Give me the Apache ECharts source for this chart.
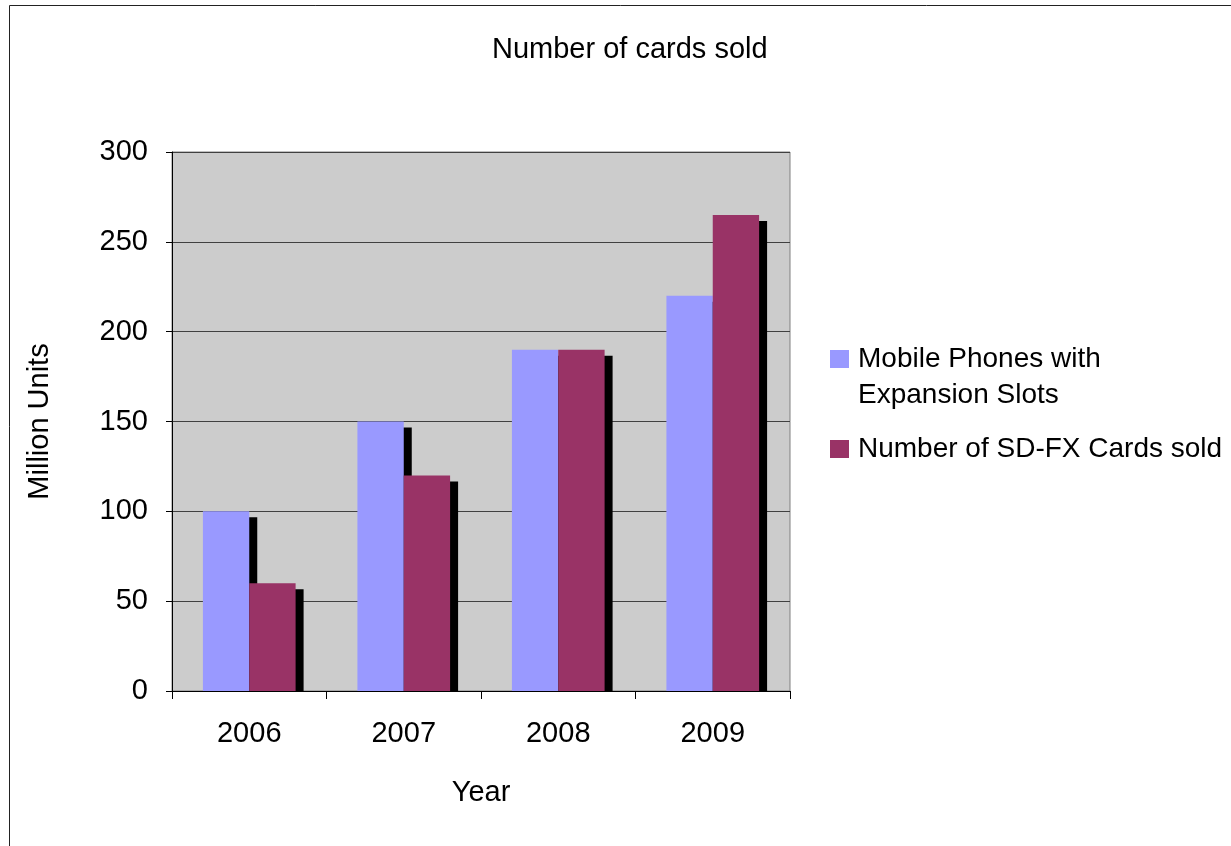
<!DOCTYPE html>
<html>
<head>
<meta charset="utf-8">
<script src="https://cdn.jsdelivr.net/npm/echarts@6/dist/echarts.min.js"></script>
<style>
  html, body { margin: 0; padding: 0; background: #fff; }
  #chart { width: 1231px; height: 846px; }
</style>
</head>
<body>
<div id="chart"></div>
<script>
// Sales figures, million units per year
const years = ['2006', '2007', '2008', '2009'];
const phonesWithSlots = [100, 150, 190, 220];
const sdfxCardsSold = [60, 120, 190, 265];
const seriesNames = ['Mobile Phones with\nExpansion Slots', 'Number of SD-FX Cards sold'];
const yTicks = { min: 0, max: 300, step: 50 };

const FONT = '"Liberation Sans", Arial, sans-serif';
const TXT = 29;
const LEG = 28;

const chart = echarts.init(document.getElementById('chart'), null, { renderer: 'canvas' });

const barShadow = {
  shadowColor: '#000000',
  shadowBlur: 0,
  shadowOffsetX: 8,
  shadowOffsetY: 6
};

const frame = {
  type: 'rect',
  id: 'frame',
  silent: true,
  z: -10,
  shape: { x: 9.5, y: 5.5, width: 1400, height: 1000 },
  style: { fill: 'none', stroke: '#222', lineWidth: 1 }
};

chart.setOption({
  animation: false,
  backgroundColor: '#ffffff',
  textStyle: { fontFamily: FONT, color: '#000' },
  graphic: [frame],
  title: {
    text: 'Number of cards sold',
    left: 487,
    top: 30,
    textStyle: { fontFamily: FONT, fontSize: TXT, fontWeight: 'normal', color: '#000' }
  },
  legend: {
    orient: 'vertical',
    left: 830,
    top: 305,
    padding: 0,
    itemWidth: 19,
    itemHeight: 18,
    itemGap: 18,
    icon: 'rect',
    // leading blank line keeps the first text line level with the swatch
    formatter: name => (name.indexOf('\n') >= 0 ? ' \n' + name : name),
    textStyle: { fontFamily: FONT, fontSize: LEG, color: '#000', lineHeight: 36, padding: [0, 0, 0, 4] },
    data: seriesNames
  },
  grid: {
    left: 172,
    right: 441,
    top: 152,
    bottom: 155,
    show: true,
    backgroundColor: '#cccccc',
    borderColor: '#808080',
    borderWidth: 1
  },
  xAxis: {
    type: 'category',
    data: years,
    boundaryGap: true,
    z: 5,
    name: 'Year',
    nameLocation: 'middle',
    nameGap: 87,
    nameTextStyle: { fontFamily: FONT, fontSize: TXT, color: '#000' },
    axisLine: { lineStyle: { color: '#000', width: 1 } },
    axisTick: { show: true, length: 8, lineStyle: { color: '#000' } },
    axisLabel: { fontFamily: FONT, fontSize: TXT, color: '#000', margin: 28 }
  },
  yAxis: {
    type: 'value',
    min: yTicks.min,
    max: yTicks.max,
    interval: yTicks.step,
    name: 'Million Units',
    nameLocation: 'middle',
    nameGap: 118,
    nameTextStyle: { fontFamily: FONT, fontSize: TXT, color: '#000' },
    axisLine: { show: true, lineStyle: { color: '#000', width: 1 } },
    axisTick: { show: true, length: 6, lineStyle: { color: '#000' } },
    axisLabel: { fontFamily: FONT, fontSize: TXT, color: '#000', margin: 24 },
    splitLine: { show: true, lineStyle: { color: '#404040', width: 1 } }
  },
  series: [
    {
      name: seriesNames[0],
      type: 'bar',
      data: phonesWithSlots,
      barWidth: '30%',
      barGap: '0%',
      itemStyle: Object.assign({ color: '#9999ff' }, barShadow)
    },
    {
      name: seriesNames[1],
      type: 'bar',
      data: sdfxCardsSold,
      barWidth: '30%',
      barGap: '0%',
      itemStyle: Object.assign({ color: '#993366' }, barShadow)
    }
  ]
});

// The drop shadows should stop at the category axis: mask the strip just
// below the plot area (the x axis itself is drawn above this mask).
const base = chart.convertToPixel({ yAxisIndex: 0 }, yTicks.min);
const x0 = chart.convertToPixel({ xAxisIndex: 0 }, years[0]);
const x1 = chart.convertToPixel({ xAxisIndex: 0 }, years[1]);
const band = x1 - x0;
chart.setOption({
  graphic: [frame, {
    type: 'rect',
    id: 'shadowMask',
    silent: true,
    z: 3,
    shape: { x: x0 - band / 2 + 1, y: base + 0.5, width: band * years.length + 12, height: 12 },
    style: { fill: '#ffffff' }
  }]
});
</script>
</body>
</html>
